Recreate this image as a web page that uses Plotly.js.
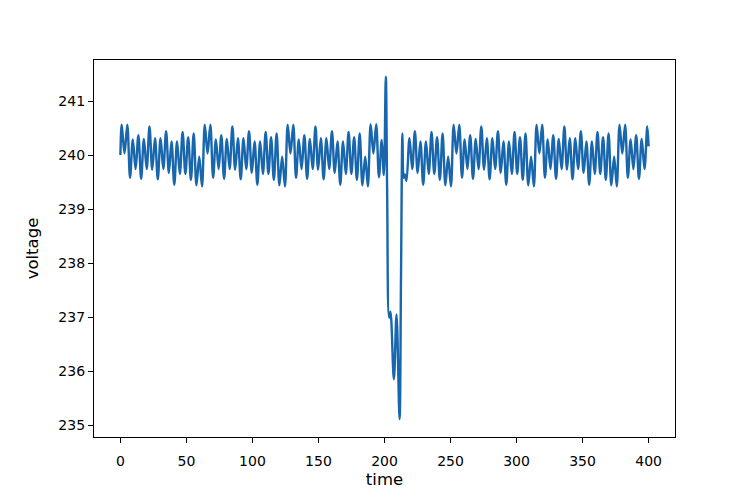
<!DOCTYPE html>
<html>
<head>
<meta charset="utf-8">
<script src="https://cdn.plot.ly/plotly-3.0.1.min.js"></script>
<style>html,body{margin:0;padding:0;background:#fff;}#chart{width:750px;height:500px;}</style>
</head>
<body>
<div id="chart"></div>
<script>
// ---- data (time, voltage at turning points) ----
var timeBefore = [0,
  1.0, 3.1, 5.2, 7.3, 9.4, 11.5, 13.6, 15.7, 17.8, 19.9, 22.0, 24.1, 26.2, 28.3, 30.4,
  32.5, 34.6, 36.7, 38.7, 40.8, 42.9, 45.0, 47.1, 49.2, 51.3, 53.4, 55.5, 57.6, 59.7, 61.8,
  63.9, 66.0, 68.1, 70.2, 72.3, 74.4, 76.4, 78.5, 80.6, 82.7, 84.8, 86.9, 89.0, 91.1, 93.2,
  95.3, 97.4, 99.5, 101.6, 103.7, 105.8, 107.9, 110.0, 112.1, 114.1, 116.2, 118.3, 120.4, 122.5, 124.6,
  126.7, 128.8, 130.9, 133.0, 135.1, 137.2, 139.3, 141.4, 143.5, 145.6, 147.7, 149.7, 151.8, 153.9, 156.0,
  158.1, 160.2, 162.3, 164.4, 166.5, 168.6, 170.7, 172.8, 174.9, 177.0, 179.1, 181.2, 183.3, 185.4, 187.4,
  189.5, 191.6, 193.7, 195.8, 197.9];
var voltBefore = [240.00,
  240.56, 240.03, 240.56, 239.58, 240.29, 239.74, 240.37, 239.56, 240.30, 239.74, 240.53, 239.73, 240.31, 239.55, 240.31,
  239.74, 240.44, 239.67, 240.25, 239.45, 240.25, 239.65, 240.43, 239.65, 240.33, 239.54, 240.40, 239.44, 239.97, 239.42,
  240.56, 240.03, 240.56, 239.58, 240.29, 239.74, 240.37, 239.56, 240.30, 239.74, 240.53, 239.73, 240.31, 239.55, 240.31,
  239.74, 240.44, 239.67, 240.25, 239.45, 240.25, 239.65, 240.43, 239.65, 240.33, 239.54, 240.40, 239.44, 239.97, 239.42,
  240.56, 240.03, 240.56, 239.58, 240.29, 239.74, 240.37, 239.56, 240.30, 239.74, 240.53, 239.73, 240.31, 239.55, 240.31,
  239.74, 240.44, 239.67, 240.25, 239.45, 240.25, 239.65, 240.43, 239.65, 240.33, 239.54, 240.40, 239.44, 239.97, 239.42,
  240.57, 240.03, 240.57, 239.59, 240.28];

var timeDip = [199.5, 201.0, 202.0, 203.5, 204.5, 207.1, 209.1, 211.4, 212.5, 213.6, 214.5, 215.4, 216.6];
var voltDip = [239.63, 241.45, 239.35, 236.99, 237.10, 235.85, 237.05, 235.11, 237.75, 240.40, 239.58, 239.64, 239.52];

var timeAfter = [
  218.9, 221.0, 223.0, 225.1, 227.2, 229.3, 231.4, 233.5, 235.6, 237.7, 239.8, 241.9, 244.0, 246.1, 248.2, 250.3,
  252.4, 254.5, 256.6, 258.7, 260.7, 262.8, 264.9, 267.0, 269.1, 271.2, 273.3, 275.4, 277.5, 279.6, 281.7,
  283.8, 285.9, 288.0, 290.1, 292.2, 294.3, 296.4, 298.5, 300.5, 302.6, 304.7, 306.8, 308.9, 311.0, 313.1,
  315.2, 317.3, 319.4, 321.5, 323.6, 325.7, 327.8, 329.9, 332.0, 334.1, 336.2, 338.2, 340.3, 342.4, 344.5,
  346.6, 348.7, 350.8, 352.9, 355.0, 357.1, 359.2, 361.3, 363.4, 365.5, 367.6, 369.7, 371.8, 373.9, 375.9,
  378.0, 380.1, 382.2, 384.3, 386.4, 388.5, 390.6, 392.7, 394.8, 396.9, 399.0, 400.0];
var voltAfter = [
  240.31, 239.74, 240.44, 239.67, 240.25, 239.45, 240.25, 239.65, 240.43, 239.65, 240.33, 239.54, 240.40, 239.44, 239.97, 239.42,
  240.56, 240.03, 240.56, 239.58, 240.29, 239.74, 240.37, 239.56, 240.30, 239.74, 240.53, 239.73, 240.31, 239.55, 240.31,
  239.74, 240.44, 239.67, 240.25, 239.45, 240.25, 239.65, 240.43, 239.65, 240.33, 239.54, 240.40, 239.44, 239.97, 239.42,
  240.56, 240.03, 240.56, 239.58, 240.29, 239.74, 240.37, 239.56, 240.30, 239.74, 240.53, 239.73, 240.31, 239.55, 240.31,
  239.74, 240.44, 239.67, 240.25, 239.45, 240.25, 239.65, 240.43, 239.65, 240.33, 239.54, 240.40, 239.44, 239.97, 239.42,
  240.56, 240.03, 240.56, 239.58, 240.29, 239.74, 240.37, 239.56, 240.30, 239.74, 240.53, 240.16];

var xTicks = [0, 50, 100, 150, 200, 250, 300, 350, 400];
var yTicks = [235, 236, 237, 238, 239, 240, 241];
var xLabel = 'time';
var yLabel = 'voltage';

var time = timeBefore.concat(timeDip, timeAfter);
var volt = voltBefore.concat(voltDip, voltAfter);

var trace = {
  x: time, y: volt, type: 'scatter', mode: 'lines',
  line: {color: '#1866ad', width: 2.4, shape: 'spline', smoothing: 1},
  hoverinfo: 'none'
};

var font = {family: 'DejaVu Sans, sans-serif', size: 14, color: '#000'};
var titleFont = {family: 'DejaVu Sans, sans-serif', size: 16.5, color: '#000'};
var axisCommon = {
  showline: true, mirror: true, linecolor: '#000', linewidth: 1.1,
  ticks: 'outside', ticklen: 5, tickwidth: 1.1, tickcolor: '#000',
  showgrid: false, zeroline: false, tickfont: font
};

var layout = {
  width: 750, height: 500,
  margin: {l: 94, r: 75, t: 60, b: 63, pad: 0},
  paper_bgcolor: '#fff', plot_bgcolor: '#fff',
  showlegend: false, font: font,
  xaxis: Object.assign({}, axisCommon, {
    range: [-20, 420], tickmode: 'array', tickvals: xTicks, ticktext: xTicks.map(String),
    ticklabelstandoff: 6,
    title: {text: xLabel, font: titleFont, standoff: 5}
  }),
  yaxis: Object.assign({}, axisCommon, {
    range: [234.78, 241.76], tickmode: 'array', tickvals: yTicks, ticktext: yTicks.map(String),
    title: {text: yLabel, font: titleFont, standoff: 15}
  })
};

Plotly.newPlot('chart', [trace], layout, {staticPlot: true, displayModeBar: false});
</script>
</body>
</html>
